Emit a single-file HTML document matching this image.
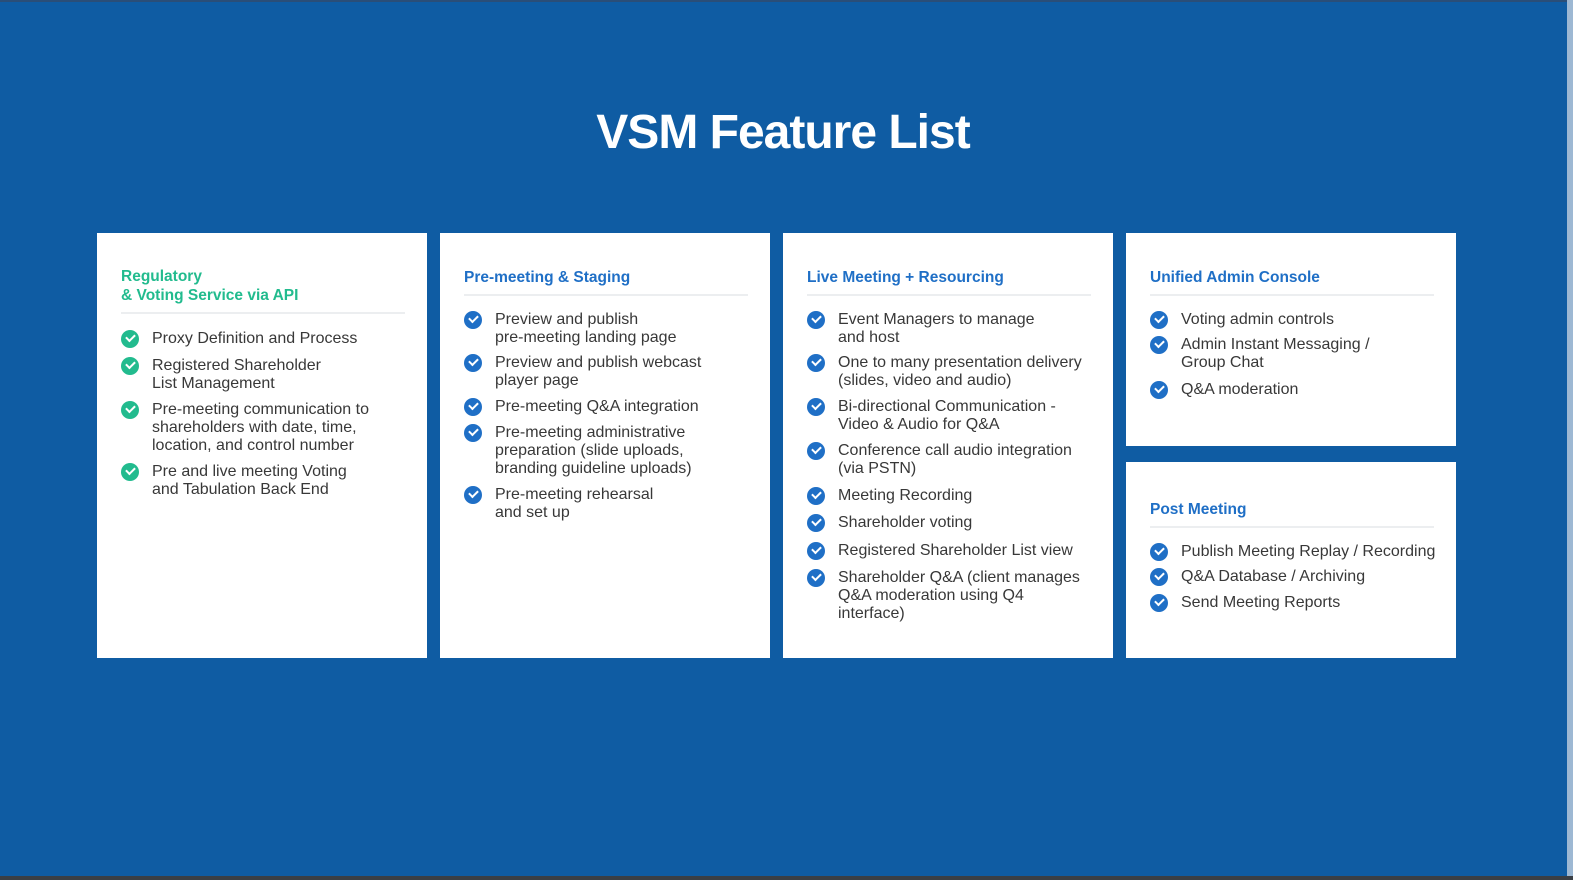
<!DOCTYPE html>
<html><head><meta charset="utf-8"><style>
body{margin:0;width:1573px;height:880px;background:#0f5ca3;position:relative;overflow:hidden;font-family:"Liberation Sans",sans-serif}
.title{position:absolute;top:102px;left:0;width:1566px;text-align:center;color:#fff;font-weight:bold;font-size:48px;letter-spacing:-1px;line-height:62px}
.card{position:absolute;background:#fff}
.h{position:absolute;left:24px;font-weight:bold;font-size:15.5px;line-height:19px;color:#1f6fc6}
.g{color:#22bb8e}
.d{position:absolute;left:24px;right:22px;height:2px;background:#eceef0}
.i{position:absolute;left:55px;font-size:16px;line-height:18px;color:#383838;white-space:nowrap}
.i:before{content:"";position:absolute;left:-31px;top:0;width:18px;height:18px;border-radius:50%;background:#1f6fc6}
.i:after{content:"";position:absolute;left:-26px;top:4px;width:7px;height:4px;border-left:2px solid #fff;border-bottom:2px solid #fff;transform:rotate(-45deg)}
.gc .i:before{background:#22bb8e}
.edge{position:absolute;right:0;top:0;width:6px;height:880px;background:#9db8d3}
.bot{position:absolute;left:0;bottom:0;width:1573px;height:4px;background:#3a3f45}
.top{position:absolute;left:0;top:0;width:1573px;height:2px;background:#2a4e78}
</style></head><body>
<div class="top"></div>
<div class="title">VSM Feature List</div>

<div class="card gc" style="left:97px;top:233px;width:330px;height:425px">
<div class="h g" style="top:34px">Regulatory<br>&amp; Voting Service via API</div>
<div class="d" style="top:79px"></div>
<div class="i" style="top:97px">Proxy Definition and Process</div>
<div class="i" style="top:124px">Registered Shareholder<br>List Management</div>
<div class="i" style="top:168px">Pre-meeting communication to<br>shareholders with date, time,<br>location, and control number</div>
<div class="i" style="top:230px">Pre and live meeting Voting<br>and Tabulation Back End</div>
</div>

<div class="card" style="left:440px;top:233px;width:330px;height:425px">
<div class="h" style="top:35px">Pre-meeting &amp; Staging</div>
<div class="d" style="top:61px"></div>
<div class="i" style="top:78px">Preview and publish<br>pre-meeting landing page</div>
<div class="i" style="top:121px">Preview and publish webcast<br>player page</div>
<div class="i" style="top:165px">Pre-meeting Q&amp;A integration</div>
<div class="i" style="top:191px">Pre-meeting administrative<br>preparation (slide uploads,<br>branding guideline uploads)</div>
<div class="i" style="top:253px">Pre-meeting rehearsal<br>and set up</div>
</div>

<div class="card" style="left:783px;top:233px;width:330px;height:425px">
<div class="h" style="top:35px">Live Meeting + Resourcing</div>
<div class="d" style="top:61px"></div>
<div class="i" style="top:78px">Event Managers to manage<br>and host</div>
<div class="i" style="top:121px">One to many presentation delivery<br>(slides, video and audio)</div>
<div class="i" style="top:165px">Bi-directional Communication -<br>Video &amp; Audio for Q&amp;A</div>
<div class="i" style="top:209px">Conference call audio integration<br>(via PSTN)</div>
<div class="i" style="top:254px">Meeting Recording</div>
<div class="i" style="top:281px">Shareholder voting</div>
<div class="i" style="top:309px">Registered Shareholder List view</div>
<div class="i" style="top:336px">Shareholder Q&amp;A (client manages<br>Q&amp;A moderation using Q4<br>interface)</div>
</div>

<div class="card" style="left:1126px;top:233px;width:330px;height:213px">
<div class="h" style="top:35px">Unified Admin Console</div>
<div class="d" style="top:61px"></div>
<div class="i" style="top:78px">Voting admin controls</div>
<div class="i" style="top:103px">Admin Instant Messaging /<br>Group Chat</div>
<div class="i" style="top:148px">Q&amp;A moderation</div>
</div>

<div class="card" style="left:1126px;top:462px;width:330px;height:196px">
<div class="h" style="top:38px">Post Meeting</div>
<div class="d" style="top:64px"></div>
<div class="i" style="top:81px">Publish Meeting Replay / Recording</div>
<div class="i" style="top:106px">Q&amp;A Database / Archiving</div>
<div class="i" style="top:132px">Send Meeting Reports</div>
</div>

<div class="edge"></div>
<div class="bot"></div>
</body></html>
